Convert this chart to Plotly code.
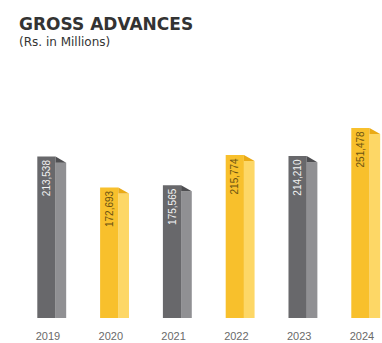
import plotly.graph_objects as go

# Gross advances by year (Rs. in millions)
years = ["2019", "2020", "2021", "2022", "2023", "2024"]
advances = [213538, 172693, 175565, 215774, 214210, 251478]
value_labels = ["213,538", "172,693", "175,565", "215,774", "214,210", "251,478"]
highlight = [False, True, False, True, False, True]

GRAY_FRONT, GRAY_SIDE, GRAY_TOP = "#68686b", "#909093", "#4e4e51"
GOLD_FRONT, GOLD_SIDE, GOLD_TOP = "#f8c02c", "#fdd766", "#eaaa16"

front_colors = [GOLD_FRONT if g else GRAY_FRONT for g in highlight]
side_colors = [GOLD_SIDE if g else GRAY_SIDE for g in highlight]
top_colors = [GOLD_TOP if g else GRAY_TOP for g in highlight]
text_colors = ["#6b5313" if g else "#f2f2f2" for g in highlight]

xs = list(range(len(years)))
FRONT_W, SIDE_W, LEFT = 0.29, 0.17, -0.17
CAP = 8000  # drop of the slanted cap across the side face, in data units

fig = go.Figure()

# side faces (shorter so the cap slants down to the right)
fig.add_trace(go.Bar(
    x=xs, y=[v - CAP for v in advances], width=SIDE_W, offset=LEFT + FRONT_W,
    marker=dict(color=side_colors, line=dict(width=0)), hoverinfo="skip",
))

# front faces with rotated value labels
fig.add_trace(go.Bar(
    x=xs, y=advances, width=FRONT_W, offset=LEFT,
    marker=dict(color=front_colors, line=dict(width=0)),
    text=value_labels, textposition="inside", insidetextanchor="end",
    textangle=-90, textfont=dict(family="Liberation Sans, Arial", size=10, color=text_colors),
))

# slanted caps over the side faces
for x, v, c in zip(xs, advances, top_colors):
    x0 = x + LEFT + FRONT_W
    x1 = x0 + SIDE_W
    fig.add_trace(go.Scatter(
        x=[x0, x1, x0, x0], y=[v, v - CAP, v - CAP, v],
        mode="lines", fill="toself", fillcolor=c, line=dict(width=0),
        hoverinfo="skip",
    ))

fig.update_layout(
    width=382, height=343,
    margin=dict(l=0, r=0, t=0, b=25),
    paper_bgcolor="white", plot_bgcolor="white",
    showlegend=False, barmode="overlay",
    xaxis=dict(range=[-0.764, 5.319], tickvals=xs, ticktext=years,
               showgrid=False, zeroline=False, showline=False,
               ticks="outside", ticklen=8, tickcolor="rgba(0,0,0,0)",
               tickfont=dict(family="Liberation Sans, Arial", size=11, color="#6a6a6a")),
    yaxis=dict(range=[0, 420700], visible=False, fixedrange=True),
    annotations=[
        dict(text="<b>GROSS ADVANCES</b>", x=17 / 382, y=1 - 12 / 318,
             xref="paper", yref="paper", showarrow=False,
             xanchor="left", yanchor="top",
             font=dict(family="DejaVu Sans", size=17, color="#333333")),
        dict(text="(Rs. in Millions)", x=17 / 382, y=1 - 33 / 318,
             xref="paper", yref="paper", showarrow=False,
             xanchor="left", yanchor="top",
             font=dict(family="DejaVu Sans", size=12, color="#333333")),
    ],
)

fig.write_html("out.html")
